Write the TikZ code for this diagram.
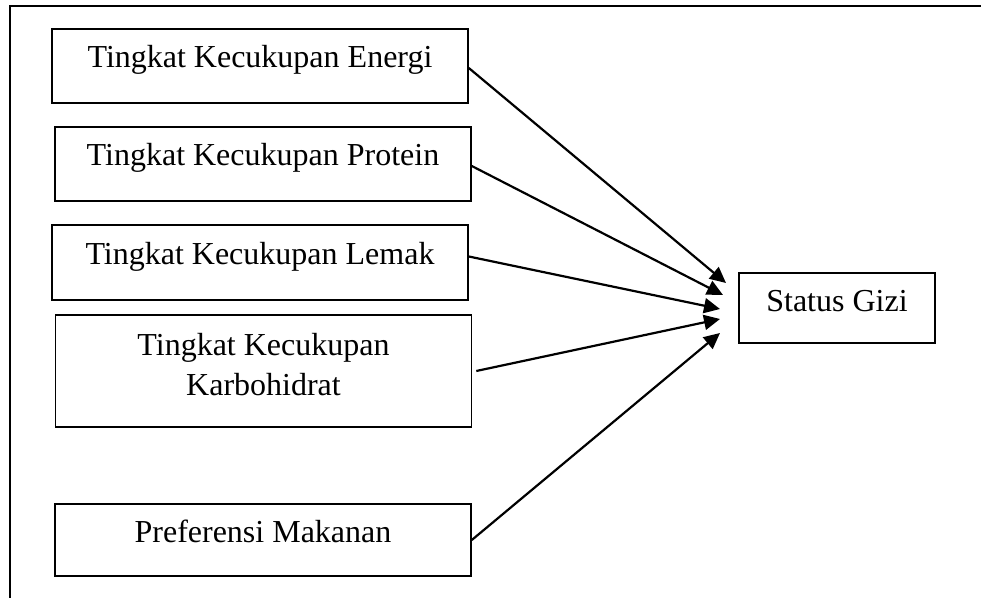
\documentclass[tikz,border=0pt]{standalone}
\usepackage{fontspec}
\setmainfont{Liberation Serif}
\usetikzlibrary{arrows.meta}
\begin{document}
\begin{tikzpicture}[x=0.5pt,y=-0.5pt,
  factor/.style={draw=black, line width=0.8pt, minimum width=208pt, minimum height=37pt,
    inner sep=0pt, align=center, text height=11pt, text depth=9pt,
    font=\fontsize{16}{20}\selectfont},
  outcome/.style={factor, minimum width=98pt, minimum height=35pt, text depth=7pt},
  link/.style={draw=black, line width=1.1pt, -{Triangle[length=8pt,width=7.5pt]}}]
\useasboundingbox (0,0) rectangle (981,598);

% frame
\draw[line width=1.2pt] (10,598) -- (10,6) -- (981,6);

% factors
\node[factor] (energi) at (260,66) {Tingkat Kecukupan Energi};
\node[factor] (protein) at (263,164) {Tingkat Kecukupan Protein};
\node[factor, minimum height=37.5pt] (lemak) at (260,262.5) {Tingkat Kecukupan Lemak};
\node[factor, minimum height=56pt, text height={}, text depth=7pt] (karbo) at (263.5,371) {Tingkat Kecukupan\\Karbohidrat};
\node[factor, minimum height=36pt, text depth=8pt] (pref) at (263,540) {Preferensi Makanan};

% outcome
\node[outcome] (gizi) at (837,308) {Status Gizi};

% arrow ends
\coordinate (in1) at (726,283);
\coordinate (in2) at (723,295);
\coordinate (in3) at (720,309);
\coordinate (in4) at (720,319);
\coordinate (in5) at (720,333);

\draw[link] ([yshift=-1pt]energi.east) -- (in1);
\draw[link] ([yshift=-1pt]protein.east) -- (in2);
\draw[link] ([yshift=3pt]lemak.east) -- (in3);
\draw[link] ([xshift=2pt]karbo.east) -- (in4);
\draw[link] (pref.east) -- (in5);
\end{tikzpicture}
\end{document}
